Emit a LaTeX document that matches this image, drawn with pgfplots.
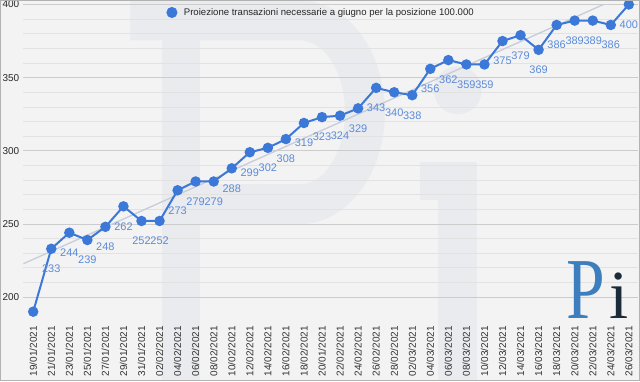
\documentclass[border=0pt]{standalone}
\usepackage{pgfplots}
\pgfplotsset{compat=1.18}
\usepackage{pgfplotstable}
\usepackage{fontspec}
\setmainfont{Liberation Sans}
\newfontfamily\logofont{Liberation Serif}
\definecolor{bg}{HTML}{F3F3F3}
\definecolor{wm}{HTML}{E9EBEF}
\definecolor{serie}{HTML}{3C78D8}
\definecolor{lab}{HTML}{5B8BD9}
\definecolor{trend}{HTML}{C6CCD8}
\definecolor{gridmaj}{HTML}{CCCCCC}
\definecolor{gridmin}{HTML}{E2E2E2}
\definecolor{logoblue}{HTML}{3D7EBF}
\definecolor{logodark}{HTML}{1C2B3A}

\pgfplotstableread{
x y
0 190
1 233
2 244
3 239
4 248
5 262
6 252
7 252
8 273
9 279
10 279
11 288
12 299
13 302
14 308
15 319
16 323
17 324
18 329
19 343
20 340
21 338
22 356
23 362
24 359
25 359
26 375
27 379
28 369
29 386
30 389
31 389
32 386
33 400
}\dati

\begin{document}
\begin{tikzpicture}[x=1pt,y=1pt]
\fill[bg] (0,0) rectangle (640,381);
% faint watermark
\fill[wm] (162,0) rectangle (200,381);
\fill[wm] (130,381) -- (300,381) arc[start angle=90, end angle=-90, x radius=85, y radius=112]
  -- (200,157) -- (200,197) -- (300,197) arc[start angle=-90, end angle=90, x radius=45, y radius=72]
  -- (130,341) -- cycle;
\fill[wm] (458,291) circle (24);
\fill[wm] (438,0) rectangle (477,219);
\fill[wm] (420,181) rectangle (438,219);
\begin{axis}[
  at={(23pt,62pt)}, anchor=south west, scale only axis,
  width=615pt, height=315pt,
  xmin=-0.54, xmax=33.48, ymin=185, ymax=400,
  axis line style={draw=none},
  major tick length=0pt, minor tick length=0pt,
  ytick={200,250,300,350,400}, minor y tick num=4,
  ymajorgrids, yminorgrids,
  major grid style={gridmaj, line width=0.8pt},
  minor grid style={gridmin, line width=0.6pt},
  xtick={0,...,33},
  xticklabels={19/01/2021,21/01/2021,23/01/2021,25/01/2021,27/01/2021,29/01/2021,31/01/2021,02/02/2021,04/02/2021,06/02/2021,08/02/2021,10/02/2021,12/02/2021,14/02/2021,16/02/2021,18/02/2021,20/01/2021,22/02/2021,24/02/2021,26/02/2021,28/02/2021,02/03/2021,04/03/2021,06/03/2021,08/03/2021,10/03/2021,12/03/2021,14/03/2021,16/03/2021,18/03/2021,20/03/2021,22/03/2021,24/03/2021,26/03/2021},
  xticklabel style={rotate=90, anchor=east, inner sep=0pt, font=\fontsize{10}{12}\selectfont, text=black!80},
  xticklabel shift=7pt,
  /pgf/number format/assume math mode=true,
  yticklabel style={anchor=east, inner sep=0pt, font=\fontsize{10}{12}\selectfont, text=black!85},
  yticklabel shift=4pt,
  legend style={draw=none, fill=none, at={(0.2325,0.9746)}, anchor=west, font=\fontsize{9.6}{12}\selectfont, text=black!85, inner sep=0pt},
  legend image code/.code={\fill[serie] (0pt,0pt) circle (4.5pt); \path (9pt,0pt);},
]
\addplot[trend, line width=1.3pt, forget plot] coordinates {(-0.54,222.8) (33.48,410.4)};
\addplot[serie, line width=2pt, mark=*, mark size=4.2pt, mark options={fill=serie, draw=serie}] table[x=x,y=y] {\dati};
\addlegendentry{Proiezione transazioni necessarie a giugno per la posizione 100.000}
\addplot[draw=none, forget plot, skip coords between index={0}{1},
  nodes near coords, point meta=explicit symbolic,
  every node near coord/.append style={anchor=north, inner sep=0pt, yshift=-16pt, font=\fontsize{11}{13}\selectfont, text=lab}]
  table[x=x, y=y, meta=y] {\dati};
\end{axis}
\node[anchor=base west, inner sep=0pt, text=logoblue, font={\logofont\fontsize{87pt}{87pt}\selectfont}, xscale=0.8, transform shape] at (567,62.5) {P};
\node[anchor=base, inner sep=0pt, text=logodark, font={\logofont\fontsize{69pt}{69pt}\selectfont}] at (620,62.5) {i};
\draw[black!30, line width=1pt] (0,0) rectangle (640,381);
\end{tikzpicture}
\end{document}
